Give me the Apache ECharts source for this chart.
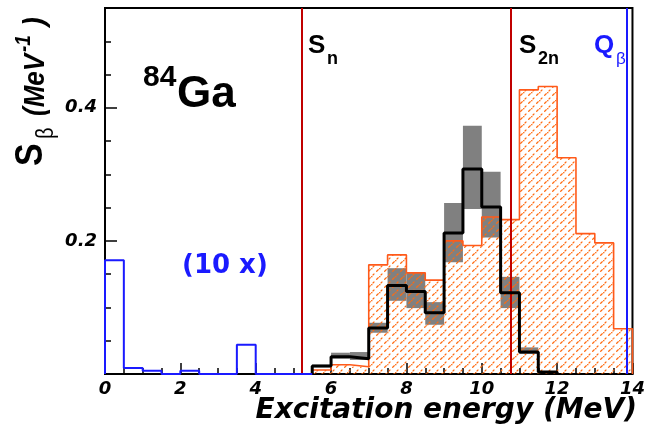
<!DOCTYPE html>
<html>
<head>
<meta charset="utf-8">
<script src="https://cdn.jsdelivr.net/npm/echarts@6/dist/echarts.min.js"></script>
<style>
html,body{margin:0;padding:0;background:#fff;}
#c{width:648px;height:435px;}
</style>
</head>
<body>
<div id="c"></div>
<script>
// ---------------- data ----------------
const binWidth = 0.5;                 // MeV
// blue (x10) histogram, bins starting at 0 MeV
const blueStart = 0;
const blueValues = [0.171, 0.009, 0.005, 0.000, 0.005, 0.000, 0.000, 0.044, 0.000, 0.000, 0.000];
// orange hatched histogram, bins starting at 5.5 MeV
const orangeStart = 5.5;
const orangeValues = [0.006, 0.014, 0.011, 0.164, 0.179, 0.152, 0.141, 0.200, 0.193, 0.236, 0.232, 0.427, 0.432, 0.325, 0.211, 0.197, 0.068];
// black histogram with grey error bands, bins starting at 5.5 MeV
const blackStart = 5.5;
const blackValues = [0.012, 0.026, 0.023, 0.069, 0.133, 0.124, 0.092, 0.212, 0.308, 0.251, 0.122, 0.033, 0.003];
const blackLow    = [0.010, 0.023, 0.021, 0.062, 0.110, 0.099, 0.074, 0.168, 0.248, 0.205, 0.099, 0.030, 0.002];
const blackHigh   = [0.014, 0.032, 0.033, 0.077, 0.159, 0.152, 0.108, 0.257, 0.373, 0.304, 0.146, 0.040, 0.004];
// thresholds (MeV)
const thresholdNames = ['Sn', 'S2n', 'Qb'];
const thresholdValues = [5.21, 10.76, 13.84];
// axes
const xMin = 0, xMax = 14, xMajor = 2;
const yMin = 0, yMax = 0.55, yMajor = 0.2, yMinor = 0.05;
const yLabels = [0.2, 0.4];

// ---------------- helpers ----------------
function stepData(start, vals) {
  const d = [[start, 0]];
  vals.forEach((v, i) => d.push([start + i * binWidth, v]));
  d.push([start + vals.length * binWidth, 0]);
  return d;
}
function rectData(start, vals) {
  return vals.map((v, i) => [start + i * binWidth, start + (i + 1) * binWidth, 0, v]);
}
function bandData(start, lo, hi) {
  return lo.map((l, i) => [start + i * binWidth, start + (i + 1) * binWidth, l, hi[i]]);
}
function rectRender(fill) {
  return function (params, api) {
    const p0 = api.coord([api.value(0), api.value(3)]);
    const p1 = api.coord([api.value(1), api.value(2)]);
    return {
      type: 'rect',
      shape: { x: p0[0], y: p0[1], width: p1[0] - p0[0], height: p1[1] - p0[1] },
      style: { fill: fill, stroke: null }
    };
  };
}

// hatch pattern
const hatch = document.createElement('canvas');
hatch.width = 8; hatch.height = 8;
(function () {
  const g = hatch.getContext('2d');
  g.strokeStyle = '#ff6a10';
  g.lineWidth = 1.3;
  g.beginPath();
  g.moveTo(0.3, 7.7); g.lineTo(2.6, 5.4);
  g.moveTo(4.6, 3.4); g.lineTo(6.4, 1.6);
  g.stroke();
  g.fillStyle = '#ff6a10';
  g.fillRect(3.1, 4.0, 1.3, 1.3);
})();
const hatchFill = { image: hatch, repeat: 'repeat' };

const tickFont = { fontFamily: 'DejaVu Sans', fontWeight: 'bold', fontStyle: 'italic', fontSize: 18, color: '#000' };
const HEL = '"Liberation Sans"';
const YS = 1.15; // vertical-title glyph stretch

const chart = echarts.init(document.getElementById('c'), null, { renderer: 'canvas' });
const thresholdColors = ['#c00000', '#c00000', '#1a1aff'];

chart.setOption({
  animation: false,
  backgroundColor: '#fff',
  grid: { left: 105, right: 11, top: 8, bottom: 61, show: true, borderColor: '#000', borderWidth: 2, backgroundColor: 'transparent' },
  xAxis: {
    type: 'value', min: xMin, max: xMax, interval: xMajor,
    axisLine: { show: true, lineStyle: { color: '#000', width: 2 } },
    axisTick: { show: true, inside: true, length: 11, lineStyle: { color: '#000', width: 1.5 } },
    minorTick: { show: true, splitNumber: 4, length: 6, lineStyle: { color: '#000', width: 1.5 } },
    axisLabel: Object.assign({ margin: 6 }, tickFont),
    splitLine: { show: false }
  },
  yAxis: [
    {
      type: 'value', min: yMin, max: yMax, interval: yMinor, position: 'left',
      axisLine: { show: true, lineStyle: { color: '#000', width: 2 } },
      axisTick: { show: true, inside: true, length: 6, lineStyle: { color: '#000', width: 1.5 } },
      axisLabel: { show: false },
      splitLine: { show: false }
    },
    {
      type: 'value', min: yMin, max: yMax, interval: yMajor, position: 'left',
      axisLine: { show: false },
      axisTick: { show: true, inside: true, length: 12, lineStyle: { color: '#000', width: 1.5 } },
      axisLabel: Object.assign({
        margin: 8,
        formatter: v => (yLabels.some(l => Math.abs(l - v) < 1e-9) ? v.toFixed(1) : '')
      }, tickFont),
      splitLine: { show: false }
    }
  ],
  series: [
    {
      type: 'custom', name: 'band', renderItem: rectRender('#808080'),
      data: bandData(blackStart, blackLow, blackHigh),
      encode: { x: [0, 1], y: [2, 3] }, z: 2, silent: true
    },
    {
      type: 'custom', name: 'hatch', renderItem: rectRender(hatchFill),
      data: rectData(orangeStart, orangeValues),
      encode: { x: [0, 1], y: [2, 3] }, z: 3, silent: true
    },
    {
      type: 'line', name: 'orange', step: 'end', showSymbol: false, symbol: 'none',
      data: stepData(orangeStart, orangeValues),
      lineStyle: { color: '#ff5a1a', width: 1.6 }, z: 4
    },
    {
      type: 'line', name: 'black', step: 'end', showSymbol: false, symbol: 'none',
      data: stepData(blackStart, blackValues),
      lineStyle: { color: '#000', width: 3 }, z: 5
    },
    {
      type: 'line', name: 'blue', step: 'end', showSymbol: false, symbol: 'none',
      data: stepData(blueStart, blueValues),
      lineStyle: { color: '#1a1aff', width: 2 }, z: 5,
      markLine: {
        silent: true, symbol: ['none', 'none'], label: { show: false },
        data: thresholdValues.map((v, i) => ({ xAxis: v, lineStyle: { color: thresholdColors[i], width: 2, type: 'solid' } }))
      }
    }
  ],
  graphic: [
    // 84Ga
    { type: 'text', x: 143, y: 78, style: { text: '84', font: 'bold 30px ' + HEL, fill: '#000', verticalAlign: 'middle' } },
    { type: 'text', x: 177, y: 95, style: { text: 'Ga', font: 'bold 44px ' + HEL, fill: '#000', verticalAlign: 'middle' } },
    // (10 x)
    { type: 'text', x: 182, y: 266, style: { text: '(10 x)', font: 'bold 26px "DejaVu Sans"', fill: '#1a1aff', verticalAlign: 'middle' } },
    // Sn
    { type: 'text', x: 308, y: 46, style: { text: 'S', font: 'bold 26px ' + HEL, fill: '#000', verticalAlign: 'middle' } },
    { type: 'text', x: 327, y: 59, style: { text: 'n', font: 'bold 18px ' + HEL, fill: '#000', verticalAlign: 'middle' } },
    // S2n
    { type: 'text', x: 519, y: 46, style: { text: 'S', font: 'bold 26px ' + HEL, fill: '#000', verticalAlign: 'middle' } },
    { type: 'text', x: 538, y: 59, style: { text: '2n', font: 'bold 18px ' + HEL, fill: '#000', verticalAlign: 'middle' } },
    // Q beta
    { type: 'text', x: 594, y: 46, style: { text: 'Q', font: 'bold 26px ' + HEL, fill: '#1a1aff', verticalAlign: 'middle' } },
    { type: 'text', x: 616, y: 59, style: { text: 'β', font: '17px ' + HEL, fill: '#1a1aff', verticalAlign: 'middle' } },
    // y title (rotated)
    { type: 'text', x: 31, y: 166, rotation: Math.PI / 2, scaleY: YS, style: { text: 'S', font: 'bold 34px ' + HEL, fill: '#000', verticalAlign: 'middle' } },
    { type: 'text', x: 47, y: 139, rotation: Math.PI / 2, scaleY: YS, style: { text: 'β', font: '20px ' + HEL, fill: '#000', verticalAlign: 'middle' } },
    { type: 'text', x: 36, y: 116, rotation: Math.PI / 2, scaleY: YS, style: { text: '(MeV', font: 'italic bold 26px ' + HEL, fill: '#000', verticalAlign: 'middle' } },
    { type: 'text', x: 24, y: 52, rotation: Math.PI / 2, scaleY: YS, style: { text: '-1', font: 'italic bold 19px ' + HEL, fill: '#000', verticalAlign: 'middle' } },
    { type: 'text', x: 36, y: 26, rotation: Math.PI / 2, scaleY: YS, style: { text: ')', font: 'italic bold 26px ' + HEL, fill: '#000', verticalAlign: 'middle' } },
    // x title
    { type: 'text', x: 637, y: 411, style: { text: 'Excitation energy (MeV)', font: 'italic bold 28px "DejaVu Sans"', fill: '#000', align: 'right', verticalAlign: 'middle' } }
  ]
});
</script>
</body>
</html>
